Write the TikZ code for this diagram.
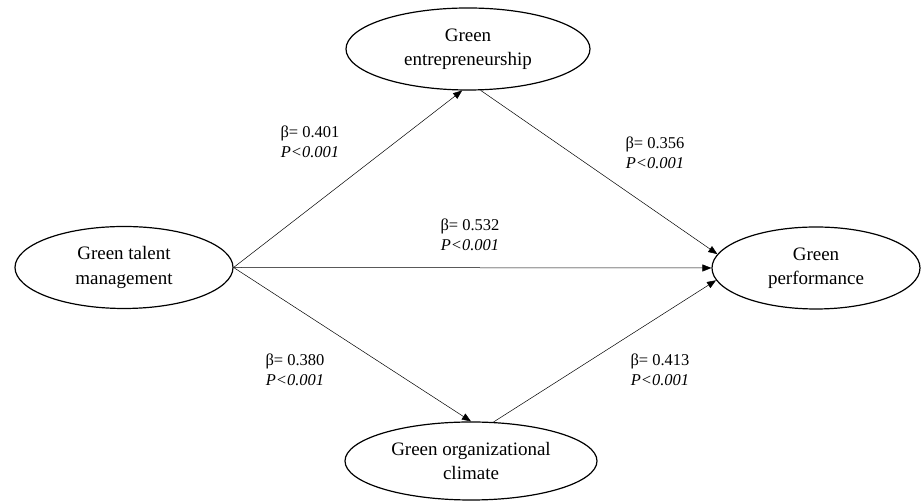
\documentclass[tikz,border=0pt]{standalone}
\usepackage{fontspec}
\setmainfont{Liberation Serif}
\usetikzlibrary{shapes.geometric,arrows.meta}

\tikzset{
	construct/.style={ellipse, draw, line width=1.2pt, align=center, inner sep=0pt,
		font=\fontsize{19}{24.5}\selectfont},
	coef/.style={align=center, font=\fontsize{16.5}{20}\selectfont},
	path/.style={-{Triangle[length=9pt,width=7pt]}, line width=0.5pt},
}

\begin{document}
\begin{tikzpicture}[x=1pt,y=1pt]
	\useasboundingbox (0,0) rectangle (921,502);
	
	\node [construct, minimum width=218pt, minimum height=82pt] (gtm) at (124,234.5) {Green talent\\management};
	\node [construct, minimum width=244pt, minimum height=82pt] (ent) at (468,453) {Green\\entrepreneurship};
	\node [construct, minimum width=208pt, minimum height=82pt] (perf) at (816,234) {Green\\performance};
	\node [construct, minimum width=252pt, minimum height=78pt] (clim) at (471,41) {Green organizational\\climate};
	
	\node [coef] (b1) at (310,360) {β= 0.401\\\textit{P<0.001}};
	\node [coef] (b2) at (655,349) {β= 0.356\\\textit{P<0.001}};
	\node [coef] (b3) at (470,267) {β= 0.532\\\textit{P<0.001}};
	\node [coef] (b4) at (295,132) {β= 0.380\\\textit{P<0.001}};
	\node [coef] (b5) at (660,132) {β= 0.413\\\textit{P<0.001}};
	
	\draw [path] (gtm.east) -- (ent.-98);
	\draw [path] (ent.-73) -- (perf.172);
	\draw [path] (gtm.east) -- (perf.west);
	\draw [path] (gtm.east) -- (clim.north);
	\draw [path] (clim.60) -- (perf.187);
\end{tikzpicture}
\end{document}
